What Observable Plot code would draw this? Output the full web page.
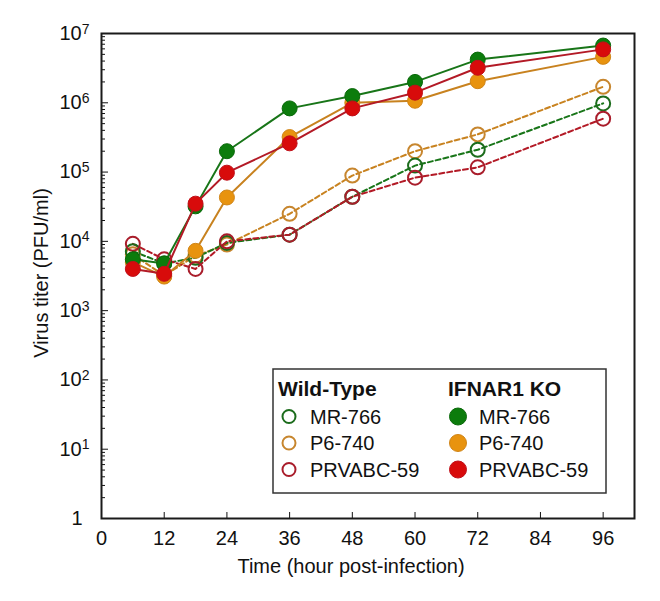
<!DOCTYPE html>
<html>
<head>
<meta charset="utf-8">
<script src="https://cdn.jsdelivr.net/npm/d3@7"></script>
<script src="https://cdn.jsdelivr.net/npm/@observablehq/plot@0.6"></script>
<style>
  body { margin: 0; background: #fff; font-family: "Liberation Sans", Arial, sans-serif; }
  #wrap { position: relative; width: 660px; height: 601px; }
  #legend { position: absolute; left: 272px; top: 368px; }
</style>
</head>
<body>
<div id="wrap"></div>
<script>
// Sampling times (hours post-infection)
const hours = [6, 12, 18, 24, 36, 48, 60, 72, 96];
const strains = ["MR-766", "P6-740", "PRVABC-59"];

// Virus titers (PFU/ml), IFNAR1 knockout cells
const koMR766   = [5500, 4800, 32000, 200000, 830000, 1250000, 2000000, 4200000, 6700000];
const koP6740   = [5000, 3100, 7300, 43000, 320000, 1000000, 1070000, 2050000, 4600000];
const koPRVABC  = [4000, 3400, 35000, 98000, 260000, 830000, 1400000, 3200000, 5900000];

// Virus titers (PFU/ml), wild-type cells
const wtMR766   = [7200, 4800, 5800, 9500, 12500, 44000, 124000, 210000, 980000];
const wtP6740   = [6500, 3200, 6200, 9000, 25000, 89000, 200000, 350000, 1700000];
const wtPRVABC  = [9200, 5500, 4000, 10000, 12500, 44000, 83000, 117000, 590000];

// Axis ticks
const xTicks = [0, 12, 24, 36, 48, 60, 72, 84, 96];
const yTicks = [1, 10, 100, 1000, 10000, 100000, 1000000, 10000000];
const yMinor = yTicks.slice(0, -1).flatMap(p => d3.range(2, 10).map(m => m * p));

const fillColor = {"MR-766": "#0c7c0c", "P6-740": "#e8930f", "PRVABC-59": "#d80b0b"};
const edgeColor = {"MR-766": "#0a690a", "P6-740": "#d08518", "PRVABC-59": "#c0101a"};
const lineColor = {"MR-766": "#187518", "P6-740": "#c8821f", "PRVABC-59": "#b31a26"};
const openColor = {"MR-766": "#1c6c1c", "P6-740": "#c7862e", "PRVABC-59": "#a91d2b"};

const series = (group, strain, vals) => hours.map((h, i) => ({group, strain, hour: h, titer: vals[i]}));
const wt = {
  "MR-766": series("Wild-Type", "MR-766", wtMR766),
  "P6-740": series("Wild-Type", "P6-740", wtP6740),
  "PRVABC-59": series("Wild-Type", "PRVABC-59", wtPRVABC)
};
const ko = {
  "MR-766": series("IFNAR1 KO", "MR-766", koMR766),
  "P6-740": series("IFNAR1 KO", "P6-740", koP6740),
  "PRVABC-59": series("IFNAR1 KO", "PRVABC-59", koPRVABC)
};
const drawOrder = ["P6-740", "MR-766", "PRVABC-59"];

const marks = [
  // inward ticks and labels
  Plot.axisX({ticks: xTicks, tickSize: -6, tickPadding: 18, tickFormat: d => String(d), fontSize: 20, label: null}),
  Plot.axisY({ticks: yTicks, tickSize: -7, tickPadding: 26, tickFormat: d => String(d), fontSize: 20, label: null}),
  Plot.axisY({ticks: yMinor, tickSize: -4, tickFormat: () => "", label: null}),
  Plot.frame({stroke: "#1a1a1a", strokeWidth: 2}),
];

// wild-type: dashed lines, open circles
for (const s of drawOrder) {
  marks.push(Plot.line(wt[s], {x: "hour", y: "titer", stroke: lineColor[s], strokeWidth: 2, strokeDasharray: "5,3"}));
}
for (const s of drawOrder) {
  marks.push(Plot.dot(wt[s], {x: "hour", y: "titer", r: 7, stroke: openColor[s], strokeWidth: 2, fill: "none"}));
}
// IFNAR1 KO: solid lines, filled circles
for (const s of drawOrder) {
  marks.push(Plot.line(ko[s], {x: "hour", y: "titer", stroke: lineColor[s], strokeWidth: 2}));
  marks.push(Plot.dot(ko[s], {x: "hour", y: "titer", r: 7.5, fill: fillColor[s], stroke: edgeColor[s], strokeWidth: 1}));
}

const chart = Plot.plot({
  width: 660,
  height: 601,
  marginLeft: 101,
  marginRight: 26,
  marginTop: 33,
  marginBottom: 83,
  style: {fontFamily: "Liberation Sans, Arial, sans-serif", fontSize: "20px", color: "#111", background: "#fff"},
  x: {domain: [0, 102], label: null},
  y: {type: "log", domain: [1, 1e7], label: null},
  marks
});

const svg = d3.select(chart);

// power-of-ten labels with raised exponents
svg.selectAll('g[aria-label="y-axis tick label"] text').each(function () {
  const t = d3.select(this);
  const v = +t.text();
  if (!(v > 1)) return;
  const e = Math.round(Math.log10(v));
  t.text("10");
  t.append("tspan").attr("dy", "-0.45em").attr("font-size", "14px").text(e);
  const tr = t.attr("transform") || "";
  t.attr("transform", (tr + " translate(7,0)").trim());
});

// axis titles
svg.append("text")
  .attr("x", 351).attr("y", 573)
  .attr("text-anchor", "middle").attr("font-size", 20).attr("fill", "#111")
  .text("Time (hour post-infection)");
svg.append("text")
  .attr("transform", "translate(48,273) rotate(-90)")
  .attr("text-anchor", "middle").attr("font-size", 20).attr("fill", "#111")
  .text("Virus titer (PFU/ml)");

document.getElementById("wrap").appendChild(chart);

// legend box
const lg = d3.select("#wrap").append("svg").attr("id", "legend")
  .attr("width", 336).attr("height", 127)
  .style("font-family", "Liberation Sans, Arial, sans-serif");
lg.append("rect").attr("x", 1).attr("y", 1).attr("width", 333).attr("height", 124)
  .attr("fill", "#fff").attr("stroke", "#333").attr("stroke-width", 1.5);
const cols = [
  {title: "Wild-Type", tx: 6, cx: 17, lx: 38, open: true},
  {title: "IFNAR1 KO", tx: 176, cx: 186, lx: 207, open: false}
];
for (const c of cols) {
  lg.append("text").attr("x", c.tx).attr("y", 28).attr("font-size", 21).attr("font-weight", "bold")
    .attr("fill", "#111").text(c.title);
  strains.forEach((s, i) => {
    const cy = 48.5 + i * 26.5;
    lg.append("circle").attr("cx", c.cx).attr("cy", cy).attr("r", c.open ? 6.5 : 8.5)
      .attr("fill", c.open ? "none" : fillColor[s])
      .attr("stroke", c.open ? openColor[s] : edgeColor[s]).attr("stroke-width", c.open ? 2 : 1);
    lg.append("text").attr("x", c.lx).attr("y", cy).attr("dy", "0.36em").attr("font-size", 20)
      .attr("fill", "#111").text(s);
  });
}
</script>
</body>
</html>
